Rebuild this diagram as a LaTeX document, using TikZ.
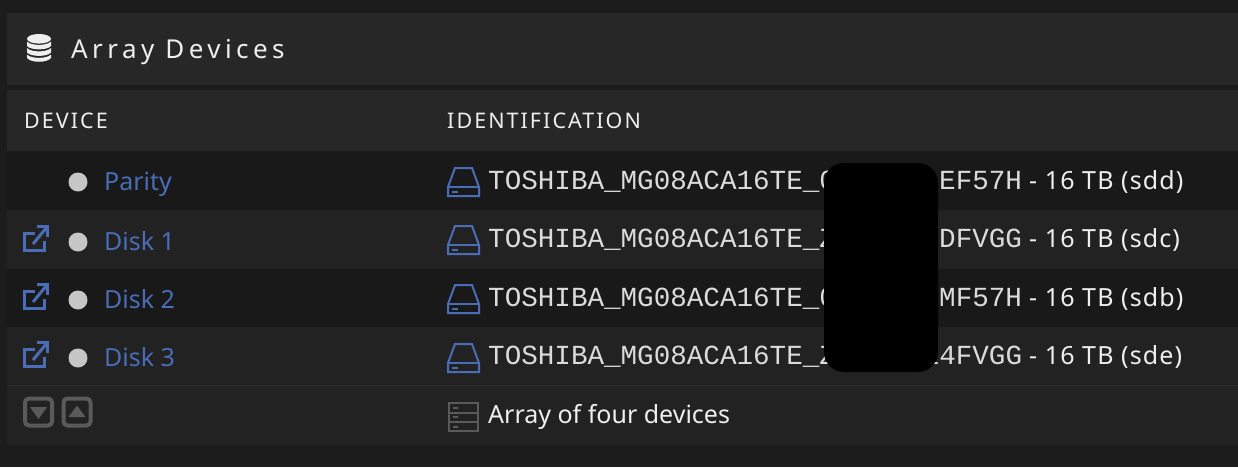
\documentclass[tikz,border=0pt]{standalone}
\usepackage{fontspec}
\setmainfont{Noto Sans}
\newfontfamily\idfont{Liberation Mono}
\newfontfamily\headfont[LetterSpace=17]{Noto Sans}
\newfontfamily\colfont[LetterSpace=9.5]{Noto Sans}
\newfontfamily\sizefont[LetterSpace=4.5]{Noto Sans}
\definecolor{bgpage}{HTML}{1C1C1C}
\definecolor{bgpanel}{HTML}{272727}
\definecolor{rowdark}{HTML}{191919}
\definecolor{rowlight}{HTML}{222222}
\definecolor{sepline}{HTML}{2D2D2D}
\definecolor{blueink}{HTML}{4A6DB8}
\definecolor{whiteink}{HTML}{EEEEEE}
\definecolor{dotgrey}{HTML}{C6C6C6}
\definecolor{dimgrey}{HTML}{5A5A5A}
\tikzset{
  lbl/.style={inner sep=0pt,anchor=base west,text=whiteink},
  devlbl/.style={lbl,text=blueink,font=\fontsize{25}{30}\selectfont},
  idtext/.style={lbl,text=whiteink!92!black,font=\idfont\fontsize{27.6}{32}\selectfont},
  sizetext/.style={lbl,font=\sizefont\fontsize{25}{30}\selectfont},
  plaintext/.style={lbl,font=\fontsize{25}{30}\selectfont},
  statusdot/.style={circle,fill=dotgrey,inner sep=0pt,minimum size=19pt},
  iconblue/.style={draw=blueink,line width=2pt,line join=miter},
  icondim/.style={draw=dimgrey,line width=2pt},
  btn/.style={draw=dimgrey,line width=4pt,rounded corners=4pt,inner sep=0pt,minimum size=27pt}
}
\newcommand{\hddicon}[1]{%
  \draw[iconblue] (455,#1+1) -- (472,#1+1) -- (479,#1+20) -- (479,#1+29) -- (448,#1+29) -- (448,#1+20) -- cycle;
  \draw[iconblue] (448,#1+20) -- (479,#1+20);
  \draw[blueink,line width=2pt] (452,#1+24.5) -- (458,#1+24.5);
}
\newcommand{\linkicon}[1]{%
  \draw[blueink,line width=3pt] (35,#1+8.5) -- (24.5,#1+8.5) -- (24.5,#1+25.5) -- (44.5,#1+25.5) -- (44.5,#1+16);
  \draw[blueink,line width=3pt] (33,#1+19) -- (47,#1+2);
  \draw[blueink,line width=3pt] (37,#1+1.5) -- (47.5,#1+1.5) -- (47.5,#1+12);
}
\begin{document}
\begin{tikzpicture}[x=1pt,y=-1pt]
\useasboundingbox (0,0) rectangle (1238,467);
\fill[bgpage] (0,0) rectangle (1238,467);
% bands
\fill[bgpanel] (7,13) rectangle (1238,85);
\fill[bgpanel] (7,90) rectangle (1238,151);
\fill[rowdark] (7,152) rectangle (1238,210);
\fill[rowlight] (7,210) rectangle (1238,269);
\fill[rowdark] (7,269) rectangle (1238,327);
\fill[rowlight] (7,327) rectangle (1238,385);
\fill[sepline] (7,384.5) rectangle (1238,386);
\fill[rowlight] (7,386) rectangle (1238,445);
% title icon
\fill[whiteink] (39,38.8) ellipse[x radius=12,y radius=4.8];
\fill[whiteink] (27,41.5) .. controls (31,46) and (47,46) .. (51,41.5) -- (51,46) .. controls (47,50.5) and (31,50.5) .. (27,46) -- cycle;
\fill[whiteink] (27,48) .. controls (31,52.5) and (47,52.5) .. (51,48) -- (51,52.5) .. controls (47,57) and (31,57) .. (27,52.5) -- cycle;
\fill[whiteink] (27,54.5) .. controls (31,59) and (47,59) .. (51,54.5) -- (51,58) .. controls (47,63) and (31,63) .. (27,58) -- cycle;
\node[lbl,font=\headfont\fontsize{26}{30}\selectfont] (title) at (71,58) {Array Devices};
\node[lbl,font=\colfont\fontsize{21.5}{26}\selectfont] (coldev) at (24,128) {DEVICE};
\node[lbl,font=\colfont\fontsize{21.5}{26}\selectfont] (colid) at (447,128) {IDENTIFICATION};
% status dots
\node[statusdot] (d0) at (78,182) {};
\node[statusdot] (d1) at (78,242) {};
\node[statusdot] (d2) at (78,300) {};
\node[statusdot] (d3) at (78,358) {};
\node[devlbl] (n0) at (104,190) {Parity};
\node[devlbl] (n1) at (104,250) {Disk 1};
\node[devlbl] (n2) at (104,308) {Disk 2};
\node[devlbl] (n3) at (104,366) {Disk 3};
\linkicon{225}
\linkicon{283}
\linkicon{341}
% ids
\hddicon{167}
\hddicon{225}
\hddicon{284}
\hddicon{343}
\node[idtext] (i0) at (488,189) {TOSHIBA\_MG08ACA16TE\_0};
\node[idtext] (i1) at (488,247) {TOSHIBA\_MG08ACA16TE\_Z};
\node[idtext] (i2) at (488,306) {TOSHIBA\_MG08ACA16TE\_0};
\node[idtext] (i3) at (488,364) {TOSHIBA\_MG08ACA16TE\_Z};
\node[idtext] (e0) at (939,189) {EF57H};
\node[idtext] (e1) at (939,247) {DFVGG};
\node[idtext] (e2) at (939,306) {MF57H};
\node[idtext] (e3) at (922.5,364) {14FVGG};
\node[sizetext] (s0) at (1029,189) {- 16 TB (sdd)};
\node[sizetext] (s1) at (1029,247) {- 16 TB (sdc)};
\node[sizetext] (s2) at (1029,306) {- 16 TB (sdb)};
\node[sizetext] (s3) at (1029,364) {- 16 TB (sde)};
% redaction
\fill[black,rounded corners=20pt] (824,163) rectangle (938,372);
% bottom row
\node[btn] (down) at (38.5,412) {};
\node[btn] (up) at (77,412) {};
\fill[dimgrey] (30,407) -- (47,407) -- (38.5,419) -- cycle;
\fill[dimgrey] (68.5,417) -- (85.5,417) -- (77,405.5) -- cycle;
\draw[icondim] (449,403) rectangle (478,431);
\draw[icondim] (449,412.5) -- (478,412.5) (449,421.5) -- (478,421.5);
\draw[icondim] (453,408) -- (458,408) (453,417) -- (458,417) (453,426.5) -- (458,426.5);
\node[plaintext] (arr) at (488,423.5) {Array of four devices};
\end{tikzpicture}
\end{document}
